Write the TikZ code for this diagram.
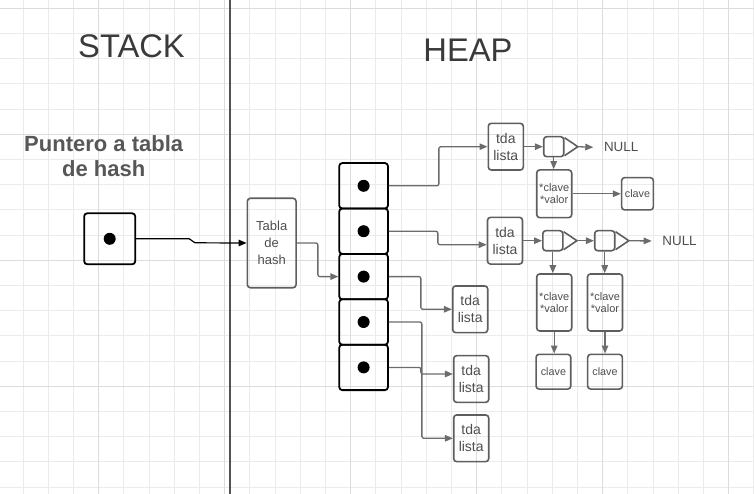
\documentclass[tikz,border=0pt]{standalone}
\usepackage{fontspec}
\setmainfont{Liberation Sans}
\usepackage{tikz}
\usetikzlibrary{calc,positioning,arrows.meta}
\definecolor{gridminor}{RGB}{235,235,235}
\definecolor{gridmajor}{RGB}{220,220,220}
\definecolor{boxline}{RGB}{94,94,94}
\definecolor{wiregray}{RGB}{108,108,108}
\definecolor{boxtext}{RGB}{78,78,78}
\definecolor{headgray}{RGB}{58,58,58}
\tikzset{
  headtext/.style={font=\fontsize{32.7}{38}\selectfont, text=headgray, inner sep=0pt},
  ptrlabel/.style={font=\fontsize{22}{25}\selectfont\bfseries, text=black!66, align=center, inner sep=0pt},
  cellbox/.style={draw=black, line width=1.8pt, rounded corners=3pt, inner sep=0pt,
                  minimum width=48.7pt, minimum height=45.4pt},
  rdot/.style={circle, fill=black, inner sep=0pt, minimum size=12pt},
  gbox/.style={draw=boxline, line width=1.6pt, rounded corners=3pt, inner sep=0pt,
               align=center, text=boxtext},
  listbox/.style={gbox, minimum width=35pt, minimum height=46.7pt, font=\fontsize{14}{17}\selectfont},
  kvbox/.style={gbox, minimum width=35pt, font=\fontsize{11}{11.7}\selectfont},
  keybox/.style={gbox, font=\fontsize{10.8}{12}\selectfont},
  linkbox/.style={draw=boxline, line width=1.6pt, rounded corners=3pt, inner sep=0pt, minimum size=20pt},
  linkline/.style={draw=boxline, line width=1.6pt, line join=round},
  nulltext/.style={font=\fontsize{13.4}{16}\selectfont, text=boxtext, inner xsep=10.5pt, inner ysep=0pt},
  wire/.style={draw=wiregray, line width=1.3pt, rounded corners=2pt,
               -{Triangle[length=8pt,width=6.5pt]}},
  ptrarrow/.style={draw=black, line width=1.2pt, rounded corners=2pt,
                   -{Triangle[length=8pt,width=6.5pt]}},
}
\begin{document}
\begin{tikzpicture}[x=1pt,y=-1pt]
  \useasboundingbox (0,0) rectangle (754,494);
  % cuadricula
  \foreach \k in {-4,...,26}{
    \draw[gridminor, line width=0.9pt] (98.7+25.2*\k,0) -- (98.7+25.2*\k,494);
  }
  \foreach \k in {0,...,19}{
    \draw[gridminor, line width=0.9pt] (0,8.3+25.2*\k) -- (754,8.3+25.2*\k);
  }
  \foreach \x in {98.7,224.7,350.7,476.7,602.7,728.7}{
    \draw[gridmajor, line width=1pt] (\x,0) -- (\x,494);
  }
  \foreach \y in {8.3,134.3,260.3,386.3}{
    \draw[gridmajor, line width=1pt] (0,\y) -- (754,\y);
  }
  % stack | heap
  \draw[line width=1.8pt, black!68] (230,0) -- (230,494);
  \node[headtext] (stack) at (131.5,46.5) {STACK};
  \node[headtext] (heap) at (468,50) {HEAP};
  \node[ptrlabel] (plabel) at (103.7,156.2) {Puntero a tabla\\de hash};

  % puntero del stack
  \node[cellbox, minimum width=51pt, minimum height=51pt] (ptr) at (109.7,238.8) {};
  \node[rdot] (ptrdot) at (ptr) {};
  \node[gbox, minimum width=48.7pt, minimum height=89.4pt,
        font=\fontsize{13}{16.7}\selectfont] (tabla) at (271.7,243) {Tabla\\de\\hash};
  \draw[ptrarrow] (ptr.east) -- ++(55,0) -- ++(2,4) -- (tabla.west);

  % celdas de la tabla
  \foreach \i in {1,...,5}{
    \node[cellbox] (c\i) at (363.6,140.4+45.4*\i) {};
    \node[rdot] (d\i) at (c\i) {};
  }
  \draw[wire] (tabla.east) -- ++(21,0) |- (c3.west);

  % listas
  \foreach \n/\x/\y in {la/505.8/146.7, lb/505/240.7, lc/470.2/309.3, ld/471.2/379, le/471.2/438.3}{
    \node[listbox] (\n) at (\x,\y) {tda\\lista};
  }
  \draw[wire] (c1.east) -- ++(50,0) |- (la.west);
  \draw[wire] (c2.east) -- ++(49,0) |- ([yshift=-4pt]lb.west);
  \draw[wire] (c3.east) -- ++(32,0) |- (lc.west);
  \draw[wire] (c4.east) -- ++(33,0) |- (le.west);
  \draw[wire] (c5.east) -- ++(32,0) |- ([yshift=5pt]ld.west);

  % nodos enlazados
  \node[linkbox] (s1) at (553.7,146.7) {};
  \node[linkbox] (s2) at (552.8,240.7) {};
  \node[linkbox] (s3) at (604.7,240.7) {};
  \foreach \s in {1,2,3}{
    \draw[linkline] ([yshift=9pt]s\s.east) -- ([xshift=13.3pt]s\s.east) -- ([yshift=-9pt]s\s.east);
    \coordinate (t\s) at ([xshift=13.3pt]s\s.east);
  }
  \node[nulltext, anchor=west] (null1) at (593.3,147.3) {NULL};
  \node[nulltext, anchor=west] (null2) at (651.7,241) {NULL};
  \draw[wire] (la.east) -- (s1.west);
  \draw[wire] (t1) -- (null1.west);
  \draw[wire] (lb.east) -- (s2.west);
  \draw[wire] (t2) -- (s3.west);
  \draw[wire] (t3) -- (null2.west);

  % pares clave/valor
  \node[kvbox, minimum height=47.7pt] (kv1) at (554.2,193.8) {*clave\\*valor};
  \node[kvbox, minimum height=57pt] (kv2) at (554.2,302.5) {*clave\\*valor};
  \node[kvbox, minimum height=57pt] (kv3) at (605,302.5) {*clave\\*valor};
  \node[keybox, minimum width=31.7pt, minimum height=32.3pt] (k1) at (637.5,193.8) {clave};
  \node[keybox, minimum width=34.7pt, minimum height=34.7pt] (k2) at (553.4,371.7) {clave};
  \node[keybox, minimum width=34.7pt, minimum height=34.7pt] (k3) at (605,371.7) {clave};
  \draw[wire] (s1.south) -- (s1.south |- kv1.north);
  \draw[wire] (s2.south) -- (s2.south |- kv2.north);
  \draw[wire] (s3.south) -- (s3.south |- kv3.north);
  \draw[wire] (kv1.east) -- (k1.west);
  \draw[wire] (kv2.south) -- (kv2.south |- k2.north);
  \draw[wire] (kv3.south) -- (kv3.south |- k3.north);
\end{tikzpicture}
\end{document}
